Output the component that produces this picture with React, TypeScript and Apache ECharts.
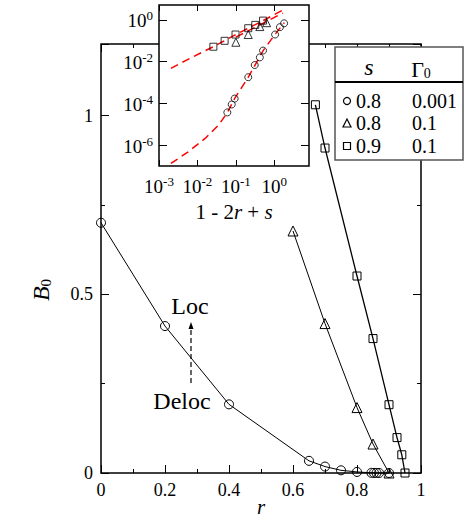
import React, { useEffect, useRef } from "react";
import * as echarts from "echarts";

const FONT = "'Liberation Serif', 'Times New Roman', serif";

// ---- main panel: B0 versus r ----
const circleR = [0, 0.2, 0.4, 0.65, 0.7, 0.75, 0.8, 0.845, 0.853, 0.861, 0.869, 0.9];
const circleB = [0.7, 0.411, 0.192, 0.034, 0.018, 0.0075, 0.003, 0.0005, 0.0003, 0.0002, 0.0001, 0];
const triangleR = [0.6, 0.7, 0.8, 0.85, 0.9];
const triangleB = [0.677, 0.418, 0.183, 0.081, 0];
const squareR = [0.67, 0.7, 0.8, 0.85, 0.9, 0.925, 0.94, 0.95];
const squareB = [1.03, 0.909, 0.551, 0.376, 0.191, 0.099, 0.051, 0];

// ---- inset: B0 versus 1 - 2r + s (log-log) ----
const insetCircleX = [0.06, 0.078, 0.093, 0.21, 0.31, 0.42, 0.51, 1.05, 1.4, 1.8];
const insetCircleY = [3.7e-5, 8.9e-5, 1.7e-4, 1.8e-3, 6.9e-3, 0.016, 0.034, 0.2, 0.45, 0.69];
const insetTriangleX = [0.1, 0.21, 0.42, 0.63];
const insetTriangleY = [0.085, 0.2, 0.48, 0.74];
const insetSquareX = [0.026, 0.051, 0.098, 0.21, 0.32, 0.51];
const insetSquareY = [0.052, 0.1, 0.2, 0.4, 0.58, 0.93];

// red dashed curves in the inset
const fitCircleX = [0.00204, 0.00575, 0.0158, 0.0355, 0.0603, 0.0933, 0.209, 0.513, 1.047, 1.82];
const fitCircleY = [1.32e-7, 4.79e-7, 2.09e-6, 9.12e-6, 3.72e-5, 1.74e-4, 1.78e-3, 0.0339, 0.204, 0.741];
const fitSquareX = [0.00204, 0.00479, 0.0132, 0.0263, 0.102, 0.513, 1.82];
const fitSquareY = [0.00479, 0.011, 0.0282, 0.0525, 0.204, 0.933, 3.24];
const fitTriangleX = [0.1, 0.5, 1.66];
const fitTriangleY = [0.151, 0.676, 2.14];

// tick labels
const mainXTicks = [0, 0.2, 0.4, 0.6, 0.8, 1];
const mainYTicks = [0, 0.5, 1];
const insetXTicks = [0.001, 0.01, 0.1, 1];
const insetYTicks = [1e-6, 1e-4, 1e-2, 1];

// legend rows
const legendS = ["0.8", "0.8", "0.9"];
const legendGamma = ["0.001", "0.1", "0.1"];

const pairs = (xs: number[], ys: number[]) => xs.map((x, i) => [x, ys[i]]);

const hollow = { color: "rgba(0,0,0,0)", borderColor: "#000", borderWidth: 1 };

const near = (v: number, list: number[]) =>
  list.some((t) => Math.abs(Math.log10(Math.abs(v) || 1e-30) - Math.log10(Math.abs(t) || 1e-30)) < 0.01);

const powLabel = (list: number[]) => (v: number) => {
  if (!near(v, list)) return "";
  const e = Math.round(Math.log10(v));
  return `{base|10}{pw|${e}}`;
};

const powRich = {
  base: { fontSize: 19, fontFamily: FONT, color: "#000", lineHeight: 21, verticalAlign: "bottom" },
  pw: { fontSize: 13, fontFamily: FONT, color: "#000", lineHeight: 13, verticalAlign: "top" },
};

const tickStyle = { color: "#000", width: 1 };

function buildOption() {
  const mainLabel = { fontSize: 18, fontFamily: FONT, color: "#000" };
  return {
    animation: false,
    textStyle: { fontFamily: FONT },
    grid: [
      {
        left: 101, top: 44, width: 320, height: 429, containLabel: false, outerBoundsMode: "none",
        show: true, borderColor: "#000", borderWidth: 1.5, backgroundColor: "rgba(0,0,0,0)", z: 0,
      },
      {
        left: 159, top: 5, width: 150, height: 161, containLabel: false, outerBoundsMode: "none",
        show: true, borderColor: "#000", borderWidth: 1.5, backgroundColor: "#fff", z: 10,
      },
    ],
    xAxis: [
      {
        gridIndex: 0, type: "value", min: 0, max: 1, interval: 0.2, position: "bottom",
        axisLine: { show: false, onZero: false },
        axisTick: { show: true, inside: true, length: 8, lineStyle: tickStyle, customValues: mainXTicks },
        minorTick: { show: true, splitNumber: 2, length: 4, lineStyle: tickStyle },
        axisLabel: { ...mainLabel, margin: 8, customValues: mainXTicks, formatter: (v: number) => String(Math.round(v * 10) / 10) },
        splitLine: { show: false },
        name: "r", nameLocation: "middle", nameGap: 23, nameMoveOverlap: false,
        nameTextStyle: { fontSize: 21, lineHeight: 21, fontStyle: "italic", fontFamily: FONT, color: "#000" },
      },
      {
        gridIndex: 0, type: "value", min: 0, max: 1, interval: 0.2, position: "top",
        axisLine: { show: false, onZero: false },
        axisTick: { show: true, inside: true, length: 8, lineStyle: tickStyle },
        minorTick: { show: true, splitNumber: 2, length: 4, lineStyle: tickStyle },
        axisLabel: { show: false },
        splitLine: { show: false },
      },
      {
        gridIndex: 1, type: "log", logBase: 10, min: 0.001, max: 8, position: "bottom", z: 11,
        axisLine: { show: false, onZero: false },
        axisTick: { show: true, inside: true, length: 6, lineStyle: tickStyle, customValues: insetXTicks },
        minorTick: { show: false },
        axisLabel: {
          margin: 9, fontSize: 19, fontFamily: FONT, color: "#000",
          customValues: insetXTicks, formatter: powLabel(insetXTicks), rich: powRich,
        },
        splitLine: { show: false },
        name: "{n|1 - 2}{i|r}{n| + }{i|s}", nameLocation: "middle", nameGap: 35,
        nameTextStyle: {
          fontSize: 21, fontFamily: FONT, color: "#000",
          rich: {
            n: { fontSize: 21, fontFamily: FONT, color: "#000" },
            i: { fontSize: 21, fontFamily: FONT, fontStyle: "italic", color: "#000" },
          },
        },
      },
      {
        gridIndex: 1, type: "log", logBase: 10, min: 0.001, max: 8, position: "top", z: 11,
        axisLine: { show: false, onZero: false },
        axisTick: { show: true, inside: true, length: 6, lineStyle: tickStyle, customValues: insetXTicks },
        axisLabel: { show: false },
        splitLine: { show: false },
      },
    ],
    yAxis: [
      {
        gridIndex: 0, type: "value", min: 0, max: 1.2, interval: 0.5, position: "left",
        axisLine: { show: false, onZero: false },
        axisTick: { show: true, inside: true, length: 8, lineStyle: tickStyle },
        axisLabel: {
          ...mainLabel, margin: 8,
          formatter: (v: number) => (mainYTicks.some((t) => Math.abs(t - v) < 1e-6) ? String(v) : ""),
        },
        splitLine: { show: false },
      },
      {
        gridIndex: 0, type: "value", min: 0, max: 1.2, interval: 0.25, position: "left",
        axisLine: { show: false, onZero: false },
        axisTick: { show: true, inside: true, length: 4, lineStyle: tickStyle },
        axisLabel: { show: false },
        splitLine: { show: false },
      },
      {
        gridIndex: 0, type: "value", min: 0, max: 1.2, interval: 0.5, position: "right",
        axisLine: { show: false, onZero: false },
        axisTick: { show: true, inside: true, length: 8, lineStyle: tickStyle },
        axisLabel: { show: false },
        splitLine: { show: false },
      },
      {
        gridIndex: 0, type: "value", min: 0, max: 1.2, interval: 0.25, position: "right",
        axisLine: { show: false, onZero: false },
        axisTick: { show: true, inside: true, length: 4, lineStyle: tickStyle },
        axisLabel: { show: false },
        splitLine: { show: false },
      },
      {
        gridIndex: 1, type: "log", logBase: 10, min: 1e-7, max: 5.2, position: "left", z: 11,
        axisLine: { show: false, onZero: false },
        axisTick: { show: true, inside: true, length: 8, lineStyle: tickStyle, customValues: insetYTicks },
        axisLabel: {
          margin: 6, fontSize: 19, fontFamily: FONT, color: "#000",
          customValues: insetYTicks, formatter: powLabel(insetYTicks), rich: powRich,
        },
        splitLine: { show: false },
      },
      {
        gridIndex: 1, type: "log", logBase: 10, min: 1e-7, max: 5.2, position: "right", z: 11,
        axisLine: { show: false, onZero: false },
        axisTick: { show: true, inside: true, length: 8, lineStyle: tickStyle, customValues: insetYTicks },
        axisLabel: { show: false },
        splitLine: { show: false },
      },
    ],
    series: [
      {
        type: "line", xAxisIndex: 0, yAxisIndex: 0, data: pairs(circleR, circleB), clip: false,
        symbol: "circle", symbolSize: 9, itemStyle: hollow, lineStyle: { color: "#000", width: 1 }, z: 2,
      },
      {
        type: "line", xAxisIndex: 0, yAxisIndex: 0, data: pairs(triangleR, triangleB), clip: false,
        symbol: "triangle", symbolSize: 10, itemStyle: hollow, lineStyle: { color: "#000", width: 1 }, z: 2,
      },
      {
        type: "line", xAxisIndex: 0, yAxisIndex: 0, data: pairs(squareR, squareB), clip: false,
        symbol: "rect", symbolSize: 8, itemStyle: hollow, lineStyle: { color: "#000", width: 1.3 }, z: 2,
      },
      {
        type: "line", xAxisIndex: 2, yAxisIndex: 4, data: pairs(fitCircleX, fitCircleY), symbol: "none",
        lineStyle: { color: "#ff0000", width: 1.5, type: [8, 5] }, z: 12,
      },
      {
        type: "line", xAxisIndex: 2, yAxisIndex: 4, data: pairs(fitSquareX, fitSquareY), symbol: "none",
        lineStyle: { color: "#ff0000", width: 1.5, type: [8, 5] }, z: 12,
      },
      {
        type: "line", xAxisIndex: 2, yAxisIndex: 4, data: pairs(fitTriangleX, fitTriangleY), symbol: "none",
        lineStyle: { color: "#ff0000", width: 1.5, type: [8, 5] }, z: 12,
      },
      {
        type: "scatter", xAxisIndex: 2, yAxisIndex: 4, data: pairs(insetCircleX, insetCircleY),
        symbol: "circle", symbolSize: 7, itemStyle: hollow, z: 13,
      },
      {
        type: "scatter", xAxisIndex: 2, yAxisIndex: 4, data: pairs(insetTriangleX, insetTriangleY),
        symbol: "triangle", symbolSize: 8, itemStyle: hollow, z: 13,
      },
      {
        type: "scatter", xAxisIndex: 2, yAxisIndex: 4, data: pairs(insetSquareX, insetSquareY),
        symbol: "rect", symbolSize: 7, itemStyle: hollow, z: 13,
      },
    ],
    graphic: [
      // y axis title B0
      {
        type: "text", x: 40, y: 290, rotation: Math.PI / 2, z: 50,
        style: {
          text: "{b|B}{s|0}", align: "center", verticalAlign: "middle",
          rich: {
            b: { fontSize: 24, fontStyle: "italic", fontFamily: FONT, fill: "#000", lineHeight: 26, verticalAlign: "bottom" },
            s: { fontSize: 15, fontFamily: FONT, fill: "#000", lineHeight: 15, verticalAlign: "bottom" },
          },
        },
      },
      // Loc / Deloc annotation
      { type: "text", x: 190, y: 306, z: 50, style: { text: "Loc", fontSize: 24, fontFamily: FONT, fill: "#000", align: "center", verticalAlign: "middle" } },
      { type: "text", x: 182, y: 401, z: 50, style: { text: "Deloc", fontSize: 24, fontFamily: FONT, fill: "#000", align: "center", verticalAlign: "middle" } },
      { type: "line", z: 50, shape: { x1: 191, y1: 383, x2: 191, y2: 328 }, style: { stroke: "#000", lineWidth: 1.2, lineDash: [5, 3] } },
      { type: "polygon", z: 50, shape: { points: [[191, 322], [188.5, 329], [193.5, 329]] }, style: { fill: "#000" } },
      // legend table
      { type: "rect", z: 100, shape: { x: 335, y: 47, width: 128, height: 113 }, style: { fill: "#fff", stroke: "#555", lineWidth: 1.5 } },
      { type: "line", z: 101, shape: { x1: 335, y1: 82, x2: 463, y2: 82 }, style: { stroke: "#000", lineWidth: 2 } },
      { type: "text", z: 101, x: 369, y: 67, style: { text: "s", fontSize: 24, fontStyle: "italic", fontFamily: FONT, fill: "#000", align: "center", verticalAlign: "middle" } },
      {
        type: "text", z: 101, x: 421, y: 68,
        style: {
          text: "{g|Γ}{sub|0}", align: "center", verticalAlign: "middle",
          rich: {
            g: { fontSize: 22, fontFamily: FONT, fill: "#000", lineHeight: 24, verticalAlign: "bottom" },
            sub: { fontSize: 14, fontFamily: FONT, fill: "#000", lineHeight: 14, verticalAlign: "bottom" },
          },
        },
      },
      { type: "circle", z: 101, shape: { cx: 347, cy: 101, r: 3.5 }, style: { fill: "none", stroke: "#000", lineWidth: 1.2 } },
      { type: "polygon", z: 101, shape: { points: [[343, 127], [351, 127], [347, 119]] }, style: { fill: "none", stroke: "#000", lineWidth: 1.2 } },
      { type: "rect", z: 101, shape: { x: 343.5, y: 142.5, width: 7, height: 7 }, style: { fill: "none", stroke: "#000", lineWidth: 1.2 } },
      ...legendS.map((t, i) => ({
        type: "text", z: 101, x: 356, y: [101, 123, 146][i],
        style: { text: t, fontSize: 20, fontFamily: FONT, fill: "#000", align: "left", verticalAlign: "middle" },
      })),
      ...legendGamma.map((t, i) => ({
        type: "text", z: 101, x: 412, y: [101, 123, 146][i],
        style: { text: t, fontSize: 20, fontFamily: FONT, fill: "#000", align: "left", verticalAlign: "middle" },
      })),
    ],
  };
}

export default function App() {
  const ref = useRef<HTMLDivElement>(null);
  useEffect(() => {
    if (!ref.current) return;
    const chart = echarts.init(ref.current, null, { renderer: "svg" });
    chart.setOption(buildOption() as any);
    return () => chart.dispose();
  }, []);
  return (
    <div
      ref={ref}
      style={{ position: "fixed", left: 0, top: 0, width: 466, height: 521, background: "#fff" }}
    />
  );
}
